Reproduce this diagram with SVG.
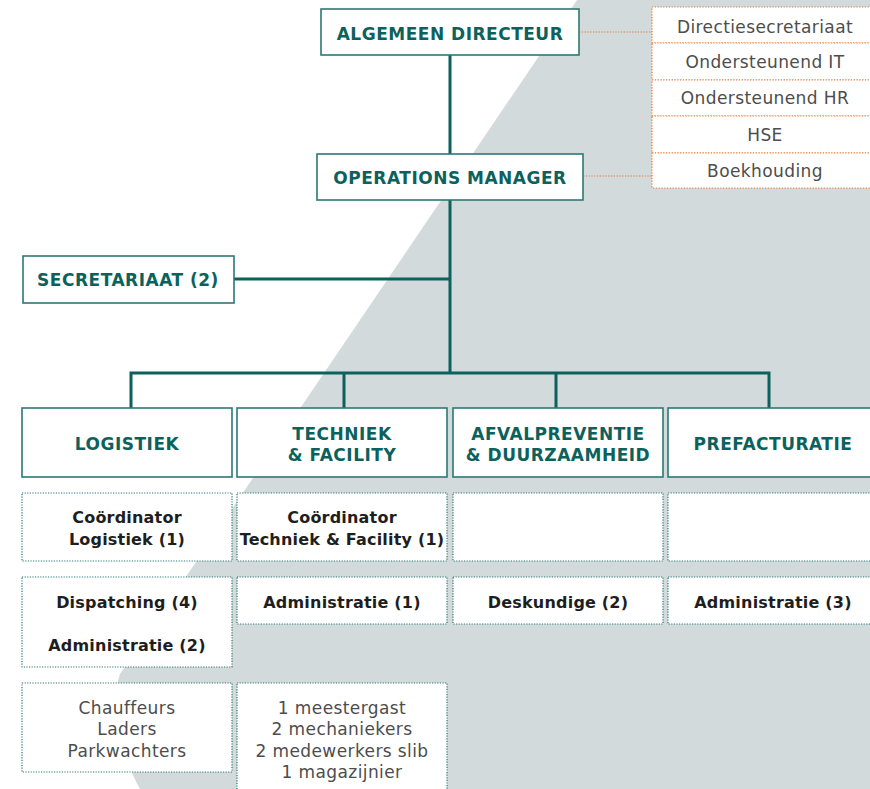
<svg xmlns="http://www.w3.org/2000/svg" width="870" height="789" viewBox="0 0 870 789">
<style>
.h{font-family:"DejaVu Sans","Noto Sans",sans-serif;font-weight:bold;font-size:17px;letter-spacing:0.5px;fill:#0d615c;text-anchor:middle}
.b{font-family:"DejaVu Sans","Noto Sans",sans-serif;font-weight:bold;font-size:16px;letter-spacing:0.2px;fill:#1e1e1e;text-anchor:middle}
.r{font-family:"DejaVu Sans","Noto Sans",sans-serif;font-size:17px;letter-spacing:0.4px;fill:#4d4d4d;text-anchor:middle}
.sb{fill:#fff;stroke:#2b7975;stroke-width:1.6}
.db{fill:#fff;stroke:#2b7975;stroke-width:1.2;stroke-dasharray:1.2 1.4}
.ob{fill:#fff;stroke:#e8742a;stroke-width:1.2;stroke-dasharray:1.2 1.6}
.cn{fill:none;stroke:#0d615c;stroke-width:3}
.oc{fill:none;stroke:#e8742a;stroke-width:1.2;stroke-dasharray:1.2 1.6}
</style>
<rect width="870" height="789" fill="#fff"/>
<path d="M577 0 L870 0 L870 789 L140 789 C118 750 110 700 120 674 Z" fill="#d3dadb"/>
<g id="connectors">
<line class="cn" x1="450" y1="55" x2="450" y2="154"/>
<line class="cn" x1="450" y1="200" x2="450" y2="374"/>
<line class="cn" x1="234" y1="279" x2="450" y2="279"/>
<polyline class="cn" points="131,408 131,373 769,373 769,408"/>
<line class="cn" x1="344" y1="373" x2="344" y2="408"/>
<line class="cn" x1="556" y1="373" x2="556" y2="408"/>
<line class="oc" x1="579" y1="32" x2="652" y2="32"/>
<line class="oc" x1="583" y1="176" x2="652" y2="176"/>
</g>
<g id="algemeen-directeur"><rect class="sb" x="321" y="9" width="258" height="46"/><text class="h" x="450" y="39.5">ALGEMEEN DIRECTEUR</text></g>
<g id="operations-manager"><rect class="sb" x="317" y="154" width="266" height="46"/><text class="h" x="450" y="184">OPERATIONS MANAGER</text></g>
<g id="secretariaat"><rect class="sb" x="23" y="256" width="211" height="47"/><text class="h" x="128" y="286">SECRETARIAAT (2)</text></g>
<g id="staf">
<rect class="ob" x="652" y="7" width="230" height="36"/><text class="r" x="765" y="33">Directiesecretariaat</text>
<rect class="ob" x="652" y="43" width="230" height="37"/><text class="r" x="765" y="68">Ondersteunend IT</text>
<rect class="ob" x="652" y="80" width="230" height="36"/><text class="r" x="765" y="104">Ondersteunend HR</text>
<rect class="ob" x="652" y="116" width="230" height="37"/><text class="r" x="765" y="141">HSE</text>
<rect class="ob" x="652" y="153" width="230" height="35"/><text class="r" x="765" y="177">Boekhouding</text>
</g>
<g id="logistiek"><rect class="sb" x="22" y="408" width="210" height="69"/><text class="h" x="127" y="450">LOGISTIEK</text></g>
<g id="techniek"><rect class="sb" x="237" y="408" width="210" height="69"/><text class="h" x="342" y="440">TECHNIEK</text><text class="h" x="342" y="461">&amp; FACILITY</text></g>
<g id="afvalpreventie"><rect class="sb" x="453" y="408" width="210" height="69"/><text class="h" x="558" y="440">AFVALPREVENTIE</text><text class="h" x="558" y="461">&amp; DUURZAAMHEID</text></g>
<g id="prefacturatie"><rect class="sb" x="668" y="408" width="214" height="69"/><text class="h" x="773" y="450">PREFACTURATIE</text></g>
<g id="coord-logistiek"><rect class="db" x="22" y="493" width="210" height="68"/><text class="b" x="127" y="523">Coördinator</text><text class="b" x="127" y="545">Logistiek (1)</text></g>
<g id="coord-techniek"><rect class="db" x="237" y="493" width="210" height="68"/><text class="b" x="342" y="523">Coördinator</text><text class="b" x="342" y="545">Techniek &amp; Facility (1)</text></g>
<g id="coord-afval"><rect class="db" x="453" y="493" width="210" height="68"/></g>
<g id="coord-prefact"><rect class="db" x="668" y="493" width="214" height="68"/></g>
<g id="dispatching"><rect class="db" x="22" y="577" width="210" height="90"/><text class="b" x="127" y="608">Dispatching (4)</text><text class="b" x="127" y="651">Administratie (2)</text></g>
<g id="admin-techniek"><rect class="db" x="237" y="577" width="210" height="47"/><text class="b" x="342" y="608">Administratie (1)</text></g>
<g id="deskundige"><rect class="db" x="453" y="577" width="210" height="47"/><text class="b" x="558" y="608">Deskundige (2)</text></g>
<g id="admin-prefact"><rect class="db" x="668" y="577" width="214" height="47"/><text class="b" x="773" y="608">Administratie (3)</text></g>
<g id="chauffeurs"><rect class="db" x="22" y="683" width="210" height="89"/><text class="r" x="127" y="714">Chauffeurs</text><text class="r" x="127" y="735">Laders</text><text class="r" x="127" y="757">Parkwachters</text></g>
<g id="techniek-staff"><rect class="db" x="237" y="683" width="210" height="120"/><text class="r" x="342" y="714">1 meestergast</text><text class="r" x="342" y="735">2 mechaniekers</text><text class="r" x="342" y="757">2 medewerkers slib</text><text class="r" x="342" y="778">1 magazijnier</text></g>
</svg>
